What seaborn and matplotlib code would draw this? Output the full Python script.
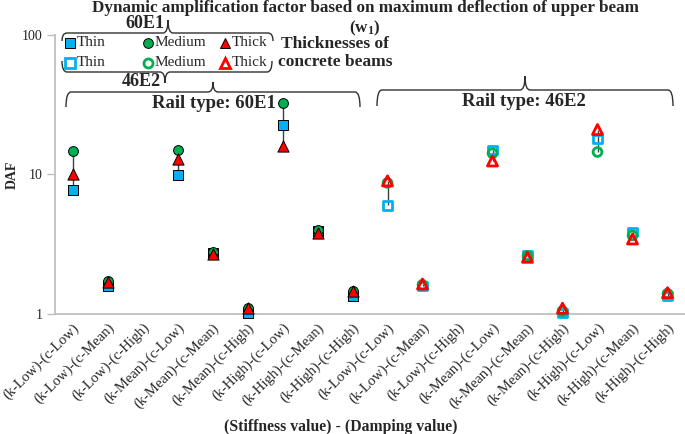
import numpy as np
import pandas as pd
import matplotlib
matplotlib.use("Agg")
import matplotlib.pyplot as plt
import seaborn as sns
from matplotlib.path import Path
from matplotlib.patches import PathPatch
from matplotlib.lines import Line2D
from matplotlib.ticker import NullLocator

# categories (same set for each rail type)
categories = ["(k-Low)-(c-Low)", "(k-Low)-(c-Mean)", "(k-Low)-(c-High)",
              "(k-Mean)-(c-Low)", "(k-Mean)-(c-Mean)", "(k-Mean)-(c-High)",
              "(k-High)-(c-Low)", "(k-High)-(c-Mean)", "(k-High)-(c-High)"]
rails = ["60E1", "46E2"]
thicknesses = ["Thin", "Medium", "Thick"]

# DAF values (nan = no point shown)
daf_60e1_thin = [7.8, 1.6, np.nan, 9.9, 2.75, 1.02, 22.8, 3.95, 1.35]
daf_60e1_medium = [14.7, 1.73, np.nan, 15.1, 2.8, 1.1, 32.3, 4.0, 1.47]
daf_60e1_thick = [10.1, 1.7, np.nan, 12.9, 2.7, 1.11, 16.0, 3.8, 1.45]
daf_46e2_thin = [6.0, 1.58, np.nan, 15.0, 2.65, 1.02, 18.0, 3.87, 1.35]
daf_46e2_medium = [8.7, 1.62, np.nan, 14.2, 2.6, 1.05, 14.5, 3.66, 1.4]
daf_46e2_thick = [9.0, 1.64, np.nan, 12.5, 2.55, 1.1, 21.0, 3.45, 1.42]

series = {("60E1", "Thin"): daf_60e1_thin, ("60E1", "Medium"): daf_60e1_medium,
          ("60E1", "Thick"): daf_60e1_thick, ("46E2", "Thin"): daf_46e2_thin,
          ("46E2", "Medium"): daf_46e2_medium, ("46E2", "Thick"): daf_46e2_thick}

colors = {"Thin": "#00B0F0", "Medium": "#00B050", "Thick": "#FF0000"}
markers = {"Thin": "s", "Medium": "o", "Thick": "^"}
sizes = {"Thin": 45, "Medium": 50, "Thick": 65}

rows = []
for r_i, rail in enumerate(rails):
    for th in thicknesses:
        for c_i, cat in enumerate(categories):
            rows.append(dict(rail=rail, thickness=th, category=cat,
                             pos=r_i * len(categories) + c_i,
                             daf=series[(rail, th)][c_i]))
df = pd.DataFrame(rows).dropna()

sns.set_style("ticks")
plt.rcParams["font.family"] = ["Liberation Serif", "DejaVu Serif"]
plt.rcParams["mathtext.fontset"] = "custom"
plt.rcParams["mathtext.rm"] = "Liberation Serif:bold"
plt.rcParams["mathtext.default"] = "rm"

W, H = 685, 434
fig = plt.figure(figsize=(W / 100, H / 100), dpi=100)
ax = fig.add_axes([55 / W, 1 - 314 / H, 630 / W, 279 / H])


def px(x, y):
    return (x / W, 1 - y / H)


# high-low lines per category
rng = df.groupby(["rail", "pos"])["daf"].agg(["min", "max"]).reset_index()
ax.vlines(rng["pos"], rng["min"], rng["max"], color="#404040", lw=1, zorder=1)

for rail in rails:
    for th in thicknesses:
        sub = df[(df.rail == rail) & (df.thickness == th)]
        if rail == "60E1":
            sns.scatterplot(data=sub, x="pos", y="daf", marker=markers[th], s=sizes[th],
                            color=colors[th], edgecolor="black", linewidth=0.7,
                            ax=ax, legend=False, zorder=3, clip_on=False)
        else:
            sns.scatterplot(data=sub, x="pos", y="daf", marker=markers[th], s=sizes[th] * 0.8,
                            color=colors[th], facecolor="none", edgecolor=colors[th],
                            linewidth=2, ax=ax, legend=False, zorder=3, clip_on=False)

ax.set_yscale("log")
ax.set_ylim(1, 100)
ax.set_yticks([1, 10, 100])
ax.set_yticklabels(["1", "10", "100"])
ax.yaxis.set_minor_locator(NullLocator())
ax.set_xlim(-0.5, 2 * len(categories) - 0.5)
ax.set_xticks(np.arange(2 * len(categories)))
ax.set_xticklabels(categories * 2, rotation=45, ha="right", rotation_mode="anchor")

sns.despine(ax=ax)
for s in ["left", "bottom"]:
    ax.spines[s].set_color("#BFBFBF")
    ax.spines[s].set_linewidth(1.3)
ax.tick_params(axis="y", length=6, width=1, color="#BFBFBF", labelsize=10, pad=3)
ax.tick_params(axis="x", length=0, labelsize=10.5, pad=5)

ax.set_ylabel("DAF", fontsize=10, fontweight="bold")
ax.yaxis.set_label_coords(-0.057, 0.5)
ax.set_xlabel("(Stiffness value) - (Damping value)", fontsize=11.3, fontweight="bold")
ax.xaxis.set_label_coords(0.454, -0.375)

fig.text(*px(365, 8), "Dynamic amplification factor based on maximum deflection of upper beam",
         ha="center", va="center", fontsize=12.3, fontweight="bold")
fig.text(*px(365, 28), "(w$_{1}$)", ha="center", va="center", fontsize=12.3, fontweight="bold")


def brace(x0, x1, xm, y_line, y_end, y_tip, r=5):
    verts = [px(x0, y_end), px(x0, y_line), px(x0 + r, y_line),
             px(xm - r, y_line), px(xm, y_line), px(xm, y_tip),
             px(xm, y_line), px(xm + r, y_line),
             px(x1 - r, y_line), px(x1, y_line), px(x1, y_end)]
    codes = [Path.MOVETO, Path.CURVE3, Path.CURVE3, Path.LINETO, Path.CURVE3, Path.CURVE3,
             Path.CURVE3, Path.CURVE3, Path.LINETO, Path.CURVE3, Path.CURVE3]
    fig.add_artist(PathPatch(Path(verts, codes), fill=False, lw=1, ec="#303030",
                             transform=fig.transFigure))


# legend block
brace(62, 273, 168, 33, 41, 20)
brace(62, 272, 165, 72, 61, 83)
fig.text(*px(145, 24), "60E1", ha="center", va="center", fontsize=13, fontweight="bold")
fig.text(*px(141, 82), "46E2", ha="center", va="center", fontsize=13, fontweight="bold")
leg_x = {"Thin": 70, "Medium": 148, "Thick": 225}
for row_y, filled in [(43, True), (63, False)]:
    for th in thicknesses:
        fx, fy = px(leg_x[th], row_y)
        if filled:
            m = Line2D([fx], [fy], marker=markers[th], ms=7, mfc=colors[th], mec="black",
                       mew=0.7, ls="none", transform=fig.transFigure)
        else:
            m = Line2D([fx], [fy], marker=markers[th], ms=6.5, mfc="none", mec=colors[th],
                       mew=2, ls="none", transform=fig.transFigure)
        fig.add_artist(m)
        fig.text(*px(leg_x[th] + 7, row_y), th, ha="left", va="center", fontsize=11)
fig.text(*px(335, 53), "Thicknesses of\nconcrete beams", ha="center", va="center",
         fontsize=12.5, fontweight="bold", linespacing=1.2)

# rail type braces
brace(66, 360, 213, 92, 107, 82)
brace(377, 673, 525, 90, 106, 76)
fig.text(*px(214, 104), "Rail type: 60E1", ha="center", va="center", fontsize=13.5, fontweight="bold")
fig.text(*px(524, 102), "Rail type: 46E2", ha="center", va="center", fontsize=13.5, fontweight="bold")

fig.savefig("out.png", dpi=100)
